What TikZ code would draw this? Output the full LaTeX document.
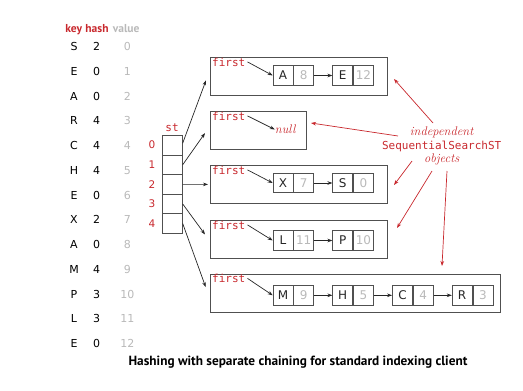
\documentclass[tikz,border=0pt]{standalone}
\usepackage{fontspec}
\newfontfamily\tabfont{DejaVu Sans}
\newfontfamily\codefont{DejaVu Sans Mono}
\newfontfamily\capfont{PT Sans}
\usetikzlibrary{arrows.meta,calc}

\definecolor{bookred}{RGB}{200,40,45}
\definecolor{valgray}{RGB}{185,185,185}
\definecolor{linegray}{RGB}{80,80,80}

\tikzset{
  tabtxt/.style={font=\tabfont\fontsize{11}{11}\selectfont, inner sep=0pt, anchor=base},
  valtxt/.style={tabtxt, text=valgray},
  headtxt/.style={font=\capfont\bfseries\fontsize{11.5}{11.5}\selectfont, inner sep=0pt, anchor=base},
  codetxt/.style={font=\codefont\fontsize{11}{11}\selectfont, text=bookred, inner sep=0pt},
  itxt/.style={font=\itshape\fontsize{12.5}{12.5}\selectfont, text=bookred, inner sep=0pt},
  objbox/.style={draw=linegray, line width=0.8pt, inner sep=0pt, anchor=north west},
  kcell/.style={draw=linegray, line width=0.7pt, minimum width=20pt, minimum height=19.5pt,
    inner sep=0pt, anchor=west, font=\tabfont\fontsize{12}{12}\selectfont, text=black!85},
  vcell/.style={kcell, text=valgray},
  stcell/.style={draw=linegray, line width=0.7pt, minimum width=20pt, minimum height=19.6pt,
    inner sep=0pt, anchor=north west},
  link/.style={line width=0.7pt, black!85, -{Stealth[length=5pt,width=3.6pt]}},
  note/.style={line width=0.7pt, bookred, -{Stealth[length=5pt,width=3.6pt]}},
}

% one list node: key cell followed by value cell
\newcommand{\chainnode}[5]{%
  \node[kcell] (#1k) at (#2,#3) {#4};
  \node[vcell] (#1v) at (#1k.east) {#5};
}

\begin{document}
\begin{tikzpicture}[x=1pt,y=-1pt]
\useasboundingbox (0,0) rectangle (523,391);

% ---- key / hash / value table ----
\node[headtxt, text=bookred] (hk) at (73.7,32) {key};
\node[headtxt, text=bookred] (hh) at (97,32) {hash};
\node[headtxt, text=valgray] (hv) at (126.2,32) {value};

\foreach \k/\h [count=\i from 0] in {S/2,E/0,A/0,R/4,C/4,H/4,E/0,X/2,A/0,M/4,P/3,L/3,E/0}{
  \pgfmathsetmacro{\yy}{50.7+24.75*\i}
  \node[tabtxt] (key\i) at (74,\yy) {\k};
  \node[tabtxt] (hash\i) at (96.7,\yy) {\h};
  \node[valtxt] (val\i) at (127.3,\yy) {\i};
}

% ---- the st array ----
\node[codetxt, anchor=base] (stlab) at (172,131) {st};
\foreach \i in {0,...,4}{
  \node[stcell] (st\i) at (162,{135+19.6*\i}) {};
  \node[codetxt, font=\tabfont\fontsize{10.5}{10.5}\selectfont] (idx\i) at (152,{145+19.6*\i}) {\i};
}

% ---- SequentialSearchST objects ----
\node[objbox, minimum width=177pt, minimum height=37.5pt] (b0) at (210,57) {};
\node[objbox, minimum width=96pt,  minimum height=38pt]   (b1) at (210,111) {};
\node[objbox, minimum width=177pt, minimum height=38pt]   (b2) at (210,165) {};
\node[objbox, minimum width=177pt, minimum height=37.5pt] (b3) at (210,220) {};
\node[objbox, minimum width=290pt, minimum height=38pt]   (b4) at (210,273.5) {};

\foreach \b/\t in {0/57,1/111,2/165,3/220,4/273.5}{
  \node[codetxt, anchor=base west] (f\b) at (212,{\t+9}) {first};
}

% chains
\chainnode{a0}{272.7}{75.5}{A}{8}
\chainnode{a1}{332.4}{75.5}{E}{12}

\node[itxt] (nul) at (285.3,129.5) {null};

\chainnode{c0}{272.7}{183}{X}{7}
\chainnode{c1}{332.4}{183}{S}{0}

\chainnode{d0}{272.7}{240.5}{L}{11}
\chainnode{d1}{332.4}{240.5}{P}{10}

\chainnode{e0}{272.7}{295.3}{M}{9}
\chainnode{e1}{332.4}{295.3}{H}{5}
\chainnode{e2}{392.1}{295.3}{C}{4}
\chainnode{e3}{451.8}{295.3}{R}{3}

% first pointers
\draw[link] ($(f0.east)+(2,0)$) -- (a0k.west);
\draw[link] ($(f1.east)+(2,0)$) -- (nul.west);
\draw[link] ($(f2.east)+(2,0)$) -- (c0k.west);
\draw[link] ($(f3.east)+(2,0)$) -- (d0k.west);
\draw[link] ($(f4.east)+(2,0)$) -- (e0k.west);

% next pointers
\draw[link] (a0v.east) -- (a1k.west);
\draw[link] (c0v.east) -- (c1k.west);
\draw[link] (d0v.east) -- (d1k.west);
\draw[link] (e0v.east) -- (e1k.west);
\draw[link] (e1v.east) -- (e2k.west);
\draw[link] (e2v.east) -- (e3k.west);

% array entries to their lists
\draw[link] ($(st0.east)+(0,-2)$) -- ($(b0.west)+(-4,4.2)$);
\draw[link] (st1.east) -- ($(b1.west)+(-5,2.7)$);
\draw[link] (st2.east) -- ($(b2.west)+(-2,0)$);
\draw[link] (st3.east) -- ($(b3.west)+(-5,-4.7)$);
\draw[link] (st4.east) -- ($(b4.west)+(-4.3,-5.8)$);

% ---- annotation ----
\node[itxt] (ann1) at (441.7,132.5) {independent};
\node[codetxt] (ann2) at (441.7,146.5) {SequentialSearchST};
\node[itxt] (ann3) at (441.7,159.8) {objects};

\coordinate (s1) at (433,123);   \coordinate (t1) at (394,79);
\coordinate (s2) at (398,136);   \coordinate (t2) at (311,123);
\coordinate (s3) at (412,161);   \coordinate (t3) at (394,185);
\coordinate (s4) at (432,171);   \coordinate (t4) at (397,228);
\coordinate (s5) at (447,171);   \coordinate (t5) at (442,266);
\foreach \n in {1,...,5}{ \draw[note] (s\n) -- (t\n); }

% ---- caption ----
\node[font=\capfont\bfseries\fontsize{13.3}{13.3}\selectfont, inner sep=0pt] (cap) at (298,362.5)
  {Hashing with separate chaining for standard indexing client};

\end{tikzpicture}
\end{document}
